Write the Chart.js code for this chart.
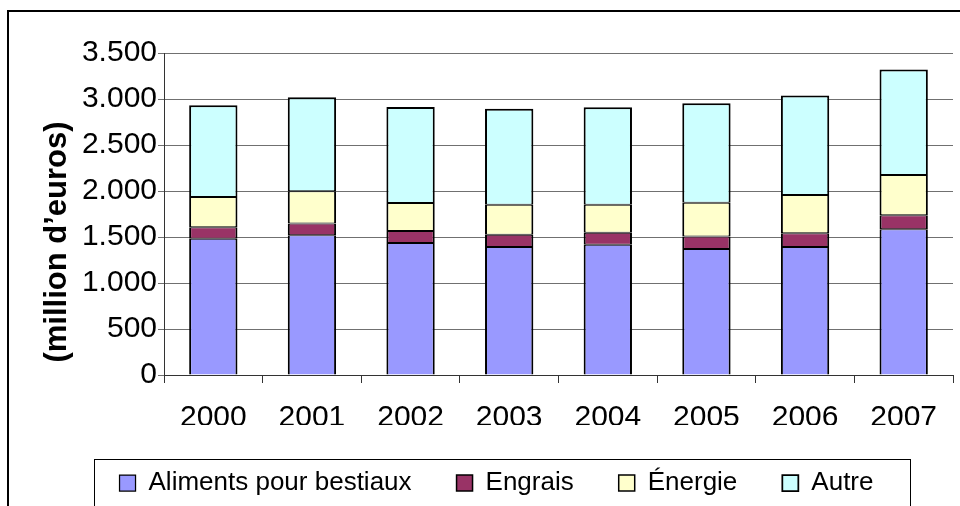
<!DOCTYPE html>
<html>
<head>
<meta charset="utf-8">
<script src="https://cdn.jsdelivr.net/npm/chart.js@4/dist/chart.umd.min.js"></script>
<style>
  html, body { margin: 0; padding: 0; background: #fff; }
  #wrap { position: relative; width: 960px; height: 506px; }
</style>
</head>
<body>
<div id="wrap"><canvas id="chart" width="960" height="506"></canvas></div>
<script>
// ── data (million euros) ──────────────────────────────────
const years       = ['2000', '2001', '2002', '2003', '2004', '2005', '2006', '2007'];
const aliments    = [1480, 1520, 1435, 1390, 1415, 1370, 1390, 1585];
const engrais     = [ 127,  128,  130,  135,  130,  135,  152,  152];
const energie     = [ 328,  348,  304,  326,  306,  368,  414,  437];
const autre       = [ 998, 1022, 1045, 1042, 1060, 1081, 1082, 1148];
const seriesNames = ['Aliments pour bestiaux', 'Engrais', 'Énergie', 'Autre'];
const yTickLabels = ['0', '500', '1.000', '1.500', '2.000', '2.500', '3.000', '3.500'];
const yTitle      = '(million d’euros)';

const FONT = "'Liberation Sans', Arial, sans-serif";
const colors = ['#9999FF', '#993366', '#FFFFCC', '#CCFFFF'];

// frame, rotated axis title, legend box
const decor = {
  id: 'decor',
  afterDraw(chart) {
    const ctx = chart.ctx;
    ctx.save();
    ctx.strokeStyle = '#000';
    ctx.lineWidth = 2;
    ctx.beginPath();
    ctx.moveTo(8, 506); ctx.lineTo(8, 11); ctx.lineTo(960, 11);
    ctx.stroke();

    ctx.translate(57, 242);
    ctx.rotate(-Math.PI / 2);
    ctx.fillStyle = '#000';
    ctx.font = 'bold 31px ' + FONT;
    ctx.textAlign = 'center';
    ctx.textBaseline = 'middle';
    ctx.fillText(yTitle, 0, 0);
    ctx.restore();

    const hb = chart.legend.legendHitBoxes;
    if (hb && hb.length) {
      const first = hb[0], last = hb[hb.length - 1];
      const l = first.left - 26, r = last.left + last.width + 36;
      const t = first.top - 11, b = first.top + first.height + 11;
      ctx.save();
      ctx.strokeStyle = '#000';
      ctx.lineWidth = 1;
      ctx.strokeRect(Math.round(l) + .5, Math.round(t) + .5, Math.round(r - l), Math.round(b - t));
      ctx.restore();
    }
  }
};

const seriesData = [aliments, engrais, energie, autre];
const last = seriesNames.length - 1;

new Chart(document.getElementById('chart').getContext('2d'), {
  type: 'bar',
  data: {
    labels: years,
    datasets: seriesNames.map((name, i) => ({
      label: name,
      data: seriesData[i],
      backgroundColor: colors[i],
      borderColor: '#000',
      // adjacent segments share the seam, so keep top/bottom thinner
      borderWidth: { left: 2, right: 2, top: i === last ? 2 : 1, bottom: i === 0 ? 0 : 1 },
      borderSkipped: false,
      barPercentage: 0.49,
      categoryPercentage: 1
    }))
  },
  options: {
    responsive: false,
    animation: false,
    layout: { padding: { left: 40, right: 7, top: 53, bottom: 0 } },
    plugins: {
      tooltip: { enabled: false },
      legend: {
        position: 'bottom',
        labels: {
          boxWidth: 16, boxHeight: 16, padding: 45,
          color: '#000',
          font: { size: 26, family: FONT }
        }
      }
    },
    scales: {
      x: {
        stacked: true,
        afterFit: s => { s.height = 50; },
        grid: { offset: true, drawOnChartArea: false, drawTicks: true, tickLength: 8, color: '#333' },
        border: { color: '#333', width: 1 },
        ticks: { color: '#000', padding: 17, font: { size: 30, family: FONT } }
      },
      y: {
        stacked: true,
        min: 0, max: 3500,
        afterFit: s => { s.width = 124; },
        grid: { color: '#707070', tickLength: 6, drawTicks: true },
        border: { color: '#333', width: 1 },
        ticks: {
          stepSize: 500, padding: 1, color: '#000',
          font: { size: 30, family: FONT },
          callback: (v, i) => yTickLabels[i]
        }
      }
    }
  },
  plugins: [decor]
});
</script>
</body>
</html>
